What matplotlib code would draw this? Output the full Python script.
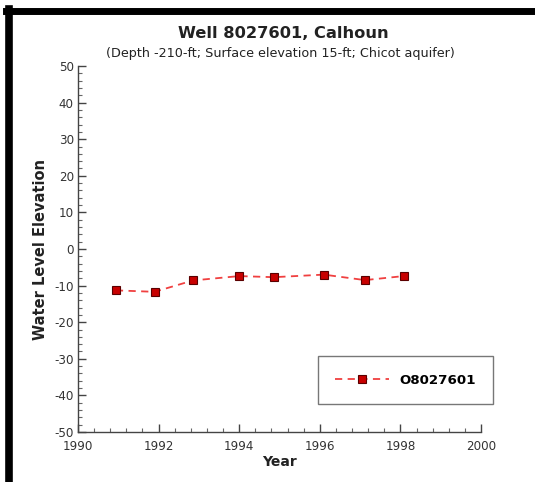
import matplotlib
matplotlib.use("Agg")
import matplotlib.pyplot as plt
from matplotlib.lines import Line2D
from matplotlib.ticker import MultipleLocator

plt.rcParams["font.family"] = ["DejaVu Sans"]
plt.rcParams["axes.unicode_minus"] = False

# well hydrograph values
years = [1990.94, 1991.9, 1992.85, 1994.0, 1994.86, 1996.1, 1997.12, 1998.08]
levels = [-11.3, -11.7, -8.6, -7.4, -7.7, -7.0, -8.5, -7.4]
well_id = "O8027601"
title = "Well 8027601, Calhoun"
subtitle = "(Depth -210-ft; Surface elevation 15-ft; Chicot aquifer)"

W, H = 535, 482
fig = plt.figure(figsize=(W / 100, H / 100), dpi=100)
ax = fig.add_axes([78 / W, 50 / H, 403 / W, 366 / H])

ax.plot(years, levels, linestyle=(0, (4, 3)), color="#f04040", linewidth=1.3,
        marker="s", markersize=6, markerfacecolor="#c80000",
        markeredgecolor="#5a0000", markeredgewidth=0.8, label=well_id)

ax.set_xlim(1990, 2000)
ax.set_ylim(-50, 50)
ax.xaxis.set_major_locator(MultipleLocator(2))
ax.xaxis.set_minor_locator(MultipleLocator(0.4))
ax.yaxis.set_major_locator(MultipleLocator(10))
ax.yaxis.set_minor_locator(MultipleLocator(2))

for side in ("top", "right"):
    ax.spines[side].set_visible(False)
for side in ("left", "bottom"):
    ax.spines[side].set_color("#444444")
    ax.spines[side].set_linewidth(1.0)

ax.tick_params(which="major", direction="in", length=6, width=1.0,
               color="#444444", labelsize=8.6, labelcolor="#333333")
ax.tick_params(axis="x", which="major", pad=6)
ax.tick_params(axis="y", which="major", pad=3)
ax.tick_params(which="minor", direction="in", length=3, width=0.8, color="#666666")

ax.set_xlabel("Year", fontsize=10, fontweight="bold", color="#222222")
ax.set_ylabel("Water Level Elevation", fontsize=10.5, fontweight="bold",
              color="#222222")
ax.xaxis.set_label_coords(0.5, -0.063)
ax.yaxis.set_label_coords(-0.074, 0.5)

fig.text(283 / W, 1 - 33 / H, title, ha="center", va="center",
         fontsize=11.7, fontweight="bold", color="#222222")
fig.text(280 / W, 1 - 53 / H, subtitle, ha="center", va="center",
         fontsize=9.2, color="#222222")

leg = ax.legend(loc="lower right", bbox_to_anchor=(1.03, 0.0765), frameon=True,
                fancybox=False, handlelength=4.0, handletextpad=0.8,
                borderpad=1.3, borderaxespad=0,
                prop={"weight": "bold", "size": 9.6})
leg.get_frame().set_edgecolor("#555555")
leg.get_frame().set_linewidth(1.0)

# black frame around the picture (left and top edges)
fig.add_artist(Line2D([9 / W, 9 / W], [0, 1 - 9 / H], color="black",
                      linewidth=5.5, transform=fig.transFigure))
fig.add_artist(Line2D([6 / W, 533 / W], [1 - 11 / H, 1 - 11 / H], color="black",
                      linewidth=5, transform=fig.transFigure))

fig.savefig("out.png", dpi=100)
